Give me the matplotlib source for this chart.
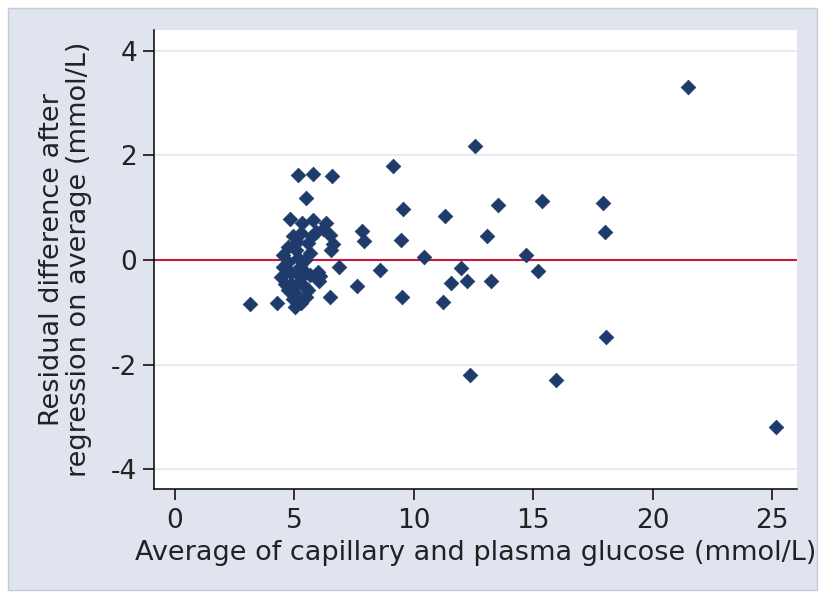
import matplotlib
matplotlib.use("Agg")
import matplotlib.pyplot as plt
from matplotlib.patches import Rectangle

# average of capillary and plasma glucose (mmol/L)
avg_glucose = [
    21.5, 25.17, 15.94, 12.34, 18.03, 18.02, 17.94, 15.38, 15.22, 14.70,
    13.51, 12.56, 9.14, 9.56, 11.32, 7.82, 7.91, 9.46, 13.05, 10.44,
    11.99, 8.57, 7.64, 11.57, 12.23, 13.23, 9.52, 11.24,
    3.16, 4.28, 5.16, 5.79, 6.59, 5.49, 4.80, 5.80, 6.34, 5.33,
    6.86, 6.07, 6.02, 6.50, 6.62, 6.48, 6.55, 5.92, 5.29, 4.94,
    4.73, 4.52, 5.57, 5.64, 5.99, 4.52, 4.45, 4.87, 5.01, 5.29,
    5.01, 5.50, 5.43, 5.29, 5.22, 5.15, 4.73, 5.43, 5.64, 5.57,
    4.73, 4.87, 5.05, 4.95, 5.10, 6.20, 5.12, 5.36, 5.72, 4.62,
]
# residual difference after regression on average (mmol/L)
resid_diff = [
    3.31, -3.19, -2.29, -2.19, -1.47, 0.53, 1.10, 1.13, -0.21, 0.10,
    1.06, 2.18, 1.80, 0.975, 0.835, 0.56, 0.36, 0.38, 0.465, 0.05,
    -0.15, -0.20, -0.50, -0.43, -0.40, -0.40, -0.71, -0.80,
    -0.85, -0.83, 1.63, 1.64, 1.61, 1.19, 0.79, 0.76, 0.70, 0.70,
    -0.14, -0.30, -0.41, -0.70, 0.30, 0.48, 0.19, 0.54, 0.51, 0.45,
    0.25, 0.10, 0.32, 0.13, -0.22, -0.13, -0.32, -0.45, -0.64, -0.83,
    -0.89, -0.70, -0.51, -0.32, -0.13, 0.03, -0.03, 0.00, -0.29, -0.57,
    -0.57, -0.25, 0.20, -0.75, 0.35, 0.60, -0.45, -0.20, 0.45, -0.45,
]

y_ticks = [-4, -2, 0, 2, 4]
x_ticks = [0, 5, 10, 15, 20, 25]

bg = '#dfe4ef'
navy = '#1f3b6b'
txt = '#222222'

fig = plt.figure(figsize=(8.2, 5.96), dpi=100, facecolor='white')
fig.patches.append(Rectangle((8 / 820, 6 / 596), 809 / 820, 582 / 596,
                             transform=fig.transFigure, facecolor=bg,
                             edgecolor='#c5cad6', linewidth=1, zorder=-1))

ax = fig.add_axes([154 / 820, 1 - 489 / 596, 643 / 820, 459 / 596])
ax.set_facecolor('white')

ax.set_xlim(-0.88, 26.05)
ax.set_ylim(-4.38, 4.40)

for t in y_ticks:
    ax.axhline(t, color='#e4e8f2', linewidth=1.2, zorder=1)
ax.axhline(0, color='#c8183c', linewidth=1.5, zorder=2)

ax.scatter(avg_glucose, resid_diff, marker='D', s=56, color=navy,
           edgecolors=navy, linewidths=0.5, zorder=3)

for side in ['top', 'right']:
    ax.spines[side].set_visible(False)
for side in ['left', 'bottom']:
    ax.spines[side].set_color('black')
    ax.spines[side].set_linewidth(1.1)

font = 'DejaVu Sans'
ax.set_xticks(x_ticks)
ax.set_yticks(y_ticks)
ax.set_xticklabels([str(t) for t in x_ticks], fontsize=19, family=font, color=txt)
ax.set_yticklabels([str(t) for t in y_ticks], fontsize=19, family=font, color=txt)
ax.tick_params(direction='out', length=8, width=1.1, pad=4, color='black')
ax.tick_params(axis='x', pad=6)

ax.set_xlabel('Average of capillary and plasma glucose (mmol/L)',
              fontsize=19.5, family=font, labelpad=4, color=txt)
ax.set_ylabel('Residual difference after\nregression on average (mmol/L)',
              fontsize=19.5, family=font, labelpad=14, linespacing=1.05, color=txt)

fig.savefig('out.png', dpi=100, facecolor=fig.get_facecolor())
